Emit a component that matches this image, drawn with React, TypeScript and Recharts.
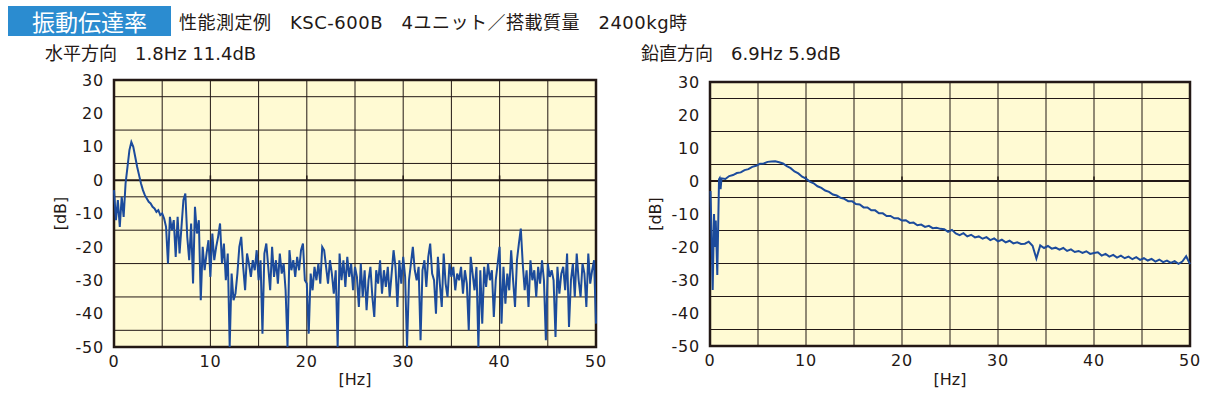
import {
  CartesianGrid,
  Line,
  LineChart,
  ReferenceArea,
  ReferenceLine,
  XAxis,
  YAxis,
} from "recharts";

// horizontal direction, one value every 0.2 Hz from 0 to 50 Hz
const HORIZ_STEP = 0.2;
const horizontalDb = [
  -3, -12, -6, -14, -5, -11, -1, 4, 9, 11.4, 10, 7, 4, 1.5, -1, -3, -4.5, -5.5, -6.5, -7, -8, -8.5, -9.5, -9, -10.5,
  -10, -11.5, -14, -25, -11, -15, -12, -23, -11, -22, -14, -6, -4, -17, -24, -13, -31, -8, -16, -12, -36, -20, -27, -22, -18,
  -29, -16, -24, -20, -17, -13, -25, -19, -30, -22, -50, -28, -36, -34, -28, -20, -17, -26, -33, -22, -25, -29, -24, -27, -21,
  -30, -24, -46, -22, -19, -26, -33, -20, -29, -24, -31, -22, -28, -25, -33, -50, -21, -27, -24, -29, -23, -27, -21, -19, -30,
  -31, -46, -28, -33, -26, -30, -25, -31, -20, -21, -26, -31, -24, -28, -34, -27, -50, -22, -30, -24, -32, -23, -29, -25, -33,
  -26, -29, -38, -25, -35, -27, -39, -30, -26, -35, -41, -27, -31, -24, -34, -27, -32, -26, -35, -28, -21, -26, -38, -24, -31,
  -23, -29, -50, -30, -25, -20, -27, -30, -26, -48, -27, -24, -32, -23, -19, -28, -30, -40, -23, -31, -38, -22, -31, -35, -25,
  -29, -26, -33, -28, -30, -26, -34, -27, -31, -45, -23, -28, -33, -26, -50, -27, -43, -26, -32, -25, -30, -27, -41, -30, -25,
  -20, -43, -26, -37, -28, -33, -21, -30, -38, -24, -19, -14.5, -25, -33, -27, -38, -24, -30, -27, -35, -26, -31, -24, -30, -48,
  -25, -29, -27, -30, -47, -26, -34, -28, -26, -33, -22, -44, -30, -25, -35, -22, -30, -35, -25, -28, -38, -22, -31, -27, -24,
  -43,
];

// vertical direction: irregular start below 1.2 Hz, then every 0.4 Hz from 1.6 Hz
const verticalLowHz = [0.05, 0.15, 0.28, 0.42, 0.52, 0.6, 0.76, 0.94, 1.0, 1.1, 1.2];
const verticalLowDb = [-3, -15, -33, -10, -20, -12, -28.5, 0.5, 0.8, -2.5, 0.8];
const VERT_START = 1.6;
const VERT_STEP = 0.4;
const verticalDb = [
  0.6, 1.5, 1.8, 2.4, 2.6, 3.3, 3.6, 4.3, 4.6, 5.2,
  5.3, 5.8, 5.9, 6.0, 5.7, 5.3, 4.5, 3.9, 2.9, 2.3,
  1.3, 0.7, -0.2, -0.7, -1.6, -2.1, -2.9, -3.3, -4.1, -4.4,
  -5.1, -5.4, -6.1, -6.1, -7.0, -7.1, -8.0, -8.0, -8.9, -8.9,
  -9.8, -9.8, -10.6, -10.6, -11.3, -11.3, -12.0, -11.9, -12.7, -12.6,
  -13.4, -13.2, -13.9, -13.6, -14.3, -14.2, -14.5, -14.6, -15.4, -14.8,
  -15.9, -16.4, -15.8, -16.8, -16.3, -17.1, -16.8, -17.5, -17.0, -17.9,
  -17.4, -18.3, -17.8, -18.6, -18.1, -18.9, -18.6, -19.1, -19.0, -18.4,
  -19.6, -23.5, -19.5, -20.3, -19.7, -20.5, -20.2, -20.8, -20.3, -21.2,
  -20.7, -21.5, -21.2, -21.8, -21.3, -22.1, -21.8, -21.6, -22.6, -22.1,
  -22.9, -22.4, -23.2, -22.6, -23.4, -22.9, -23.7, -23.1, -23.9, -23.4,
  -24.1, -23.6, -24.4, -23.8, -24.6, -24.1, -24.8, -24.3, -25.1, -24.4,
  -22.8, -25.2,
];

const xTicks = [0, 10, 20, 30, 40, 50];
const yTicks = [-50, -40, -30, -20, -10, 0, 10, 20, 30];
const xGrid = [5, 10, 15, 20, 25, 30, 35, 40, 45];
const yGrid = [-45, -40, -35, -30, -25, -20, -15, -10, -5, 0, 5, 10, 15, 20, 25];
const zeroTicks = [10, 20, 30, 40];

const horizontalData = horizontalDb.map((db, i) => ({
  hz: Number((i * HORIZ_STEP).toFixed(1)),
  db,
}));
const verticalData = [
  ...verticalLowHz.map((hz, i) => ({ hz, db: verticalLowDb[i] })),
  ...verticalDb.map((db, i) => ({
    hz: Number((VERT_START + i * VERT_STEP).toFixed(1)),
    db,
  })),
];

const INK = "#231815";
const LINE = "#1c4b9c";
const PAPER = "#fffad3";
const tickFont = { fontFamily: "DejaVu Sans", fontSize: 16, fill: INK, letterSpacing: 0.8 };
const labelStyle = { fontFamily: "DejaVu Sans", fontSize: 16, fill: INK };
const textFont = "'DejaVu Sans', 'Noto Sans CJK JP', sans-serif";

type ChartProps = {
  data: { hz: number; db: number }[];
  left: number;
  width: number;
  top: number;
  bottom: number;
  right: number;
  yAxisLeft: number;
  yAxisWidth: number;
};

function TransmissibilityChart({
  data,
  left,
  width,
  top,
  bottom,
  right,
  yAxisLeft,
  yAxisWidth,
}: ChartProps) {
  return (
    <div style={{ position: "absolute", left, top: 0 }}>
      <LineChart
        width={width}
        height={394}
        data={data}
        margin={{ top, right, bottom: 0, left: yAxisLeft }}
      >
        <CartesianGrid
          fill={PAPER}
          fillOpacity={1}
          stroke={INK}
          strokeWidth={1}
          horizontalValues={yGrid}
          verticalValues={xGrid}
        />
        <XAxis
          dataKey="hz"
          type="number"
          domain={[0, 50]}
          ticks={xTicks}
          axisLine={false}
          tickLine={false}
          tickSize={0}
          tickMargin={9}
          height={394 - bottom}
          tick={tickFont}
          label={{ value: "[Hz]", position: "insideBottom", offset: 9, style: labelStyle }}
        />
        <YAxis
          type="number"
          domain={[-50, 30]}
          ticks={yTicks}
          allowDataOverflow
          axisLine={false}
          tickLine={false}
          tickSize={0}
          tickMargin={10}
          width={yAxisWidth}
          tick={tickFont}
          label={{ value: "[dB]", angle: -90, position: "center", style: labelStyle }}
        />
        <ReferenceLine y={0} stroke={INK} strokeWidth={2} />
        {zeroTicks.map((t) => (
          <ReferenceLine
            key={t}
            segment={[
              { x: t, y: 0 },
              { x: t, y: 1.4 },
            ]}
            stroke={INK}
            strokeWidth={1.5}
          />
        ))}
        <Line
          type="linear"
          dataKey="db"
          stroke={LINE}
          strokeWidth={2}
          dot={false}
          isAnimationActive={false}
        />
        <ReferenceArea
          x1={0}
          x2={50}
          y1={-50}
          y2={30}
          fill="none"
          stroke={INK}
          strokeWidth={2.5}
          ifOverflow="visible"
        />
      </LineChart>
    </div>
  );
}

export default function App() {
  return (
    <div
      style={{
        position: "absolute",
        left: 0,
        top: 0,
        width: 1227,
        height: 394,
        background: "#fff",
        overflow: "hidden",
        fontFamily: textFont,
        color: INK,
      }}
    >
      <TransmissibilityChart
        data={horizontalData}
        left={0}
        width={620}
        top={80}
        bottom={347}
        right={24}
        yAxisLeft={6}
        yAxisWidth={108}
      />
      <TransmissibilityChart
        data={verticalData}
        left={600}
        width={627}
        top={82}
        bottom={346}
        right={37}
        yAxisLeft={0}
        yAxisWidth={110}
      />
      <div
        style={{
          position: "absolute",
          left: 8,
          top: 6,
          width: 163,
          height: 30,
          background: "#2b8cd0",
          color: "#fff",
          fontFamily: "'Noto Sans CJK JP', sans-serif",
          fontSize: 23,
          lineHeight: "30px",
          textAlign: "center",
        }}
      >
        振動伝達率
      </div>
      <div
        style={{
          position: "absolute",
          left: 179,
          top: 11,
          fontSize: 18,
          lineHeight: "24px",
          letterSpacing: 0.5,
          whiteSpace: "pre",
        }}
      >
        性能測定例　KSC-600B　4ユニット／搭載質量　2400kg時
      </div>
      <div style={{ position: "absolute", left: 45, top: 42, fontSize: 18, lineHeight: "24px", whiteSpace: "pre" }}>
        水平方向　1.8Hz 11.4dB
      </div>
      <div style={{ position: "absolute", left: 641, top: 42, fontSize: 18, lineHeight: "24px", whiteSpace: "pre" }}>
        鉛直方向　6.9Hz 5.9dB
      </div>
    </div>
  );
}
